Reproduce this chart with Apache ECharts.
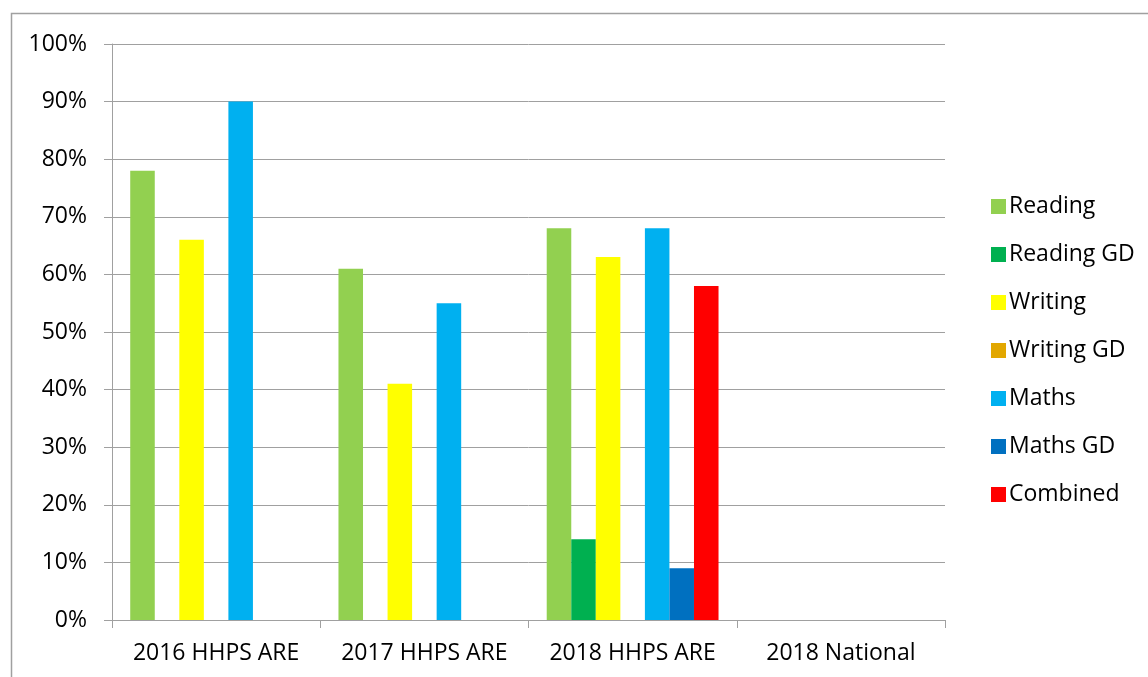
<!DOCTYPE html>
<html><head><meta charset="utf-8">
<script src="https://cdn.jsdelivr.net/npm/echarts@6/dist/echarts.min.js"></script>
<style>html,body{margin:0;padding:0;background:#fff}#c{width:1148px;height:677px}</style>
</head><body><div id="c"></div>
<script>
const categories = ['2016 HHPS ARE', '2017 HHPS ARE', '2018 HHPS ARE', '2018 National'];
const reading   = [78, 61, 68, null];
const readingGD = [null, null, 14, null];
const writing   = [66, 41, 63, null];
const writingGD = [null, null, null, null];
const maths     = [90, 55, 68, null];
const mathsGD   = [null, null, 9, null];
const combined  = [null, null, 58, null];
const yTicks = [0, 10, 20, 30, 40, 50, 60, 70, 80, 90, 100];

const seriesDefs = [
  ['Reading', reading, '#92D050'],
  ['Reading GD', readingGD, '#00B050'],
  ['Writing', writing, '#FFFF00'],
  ['Writing GD', writingGD, '#E2A700'],
  ['Maths', maths, '#00B0F0'],
  ['Maths GD', mathsGD, '#0070C0'],
  ['Combined', combined, '#FF0000']
];
const font = '"Open Sans", sans-serif';
const chart = echarts.init(document.getElementById('c'));
chart.setOption({
  animation: false,
  graphic: [{type: 'rect', shape: {x: 11.5, y: 13.5, width: 1200, height: 700}, style: {fill: 'none', stroke: '#a0a0a0', lineWidth: 1.5}, silent: true}],
  grid: {left: 112, right: 1148 - 945, top: 44, bottom: 677 - 620, containLabel: false},
  legend: {
    orient: 'vertical', left: 986, top: 190, icon: 'rect', itemWidth: 15, itemHeight: 15, itemGap: 25,
    textStyle: {fontSize: 23, fontFamily: font, color: '#000', lineHeight: 23, padding: [0, 0, 0, -2]},
    data: seriesDefs.map(s => s[0])
  },
  xAxis: {
    type: 'category', data: categories,
    axisLine: {lineStyle: {color: '#a0a0a0', width: 1}},
    axisTick: {show: true, interval: 0, length: 8, lineStyle: {color: '#a0a0a0'}},
    axisLabel: {interval: 0, fontSize: 23, fontFamily: font, color: '#000', margin: 22}
  },
  yAxis: {
    type: 'value', min: 0, max: 100, interval: 10,
    axisLine: {show: true, lineStyle: {color: '#a0a0a0', width: 1}},
    axisTick: {show: true, length: 8, lineStyle: {color: '#a0a0a0'}},
    splitLine: {lineStyle: {color: '#a0a0a0', width: 1}},
    axisLabel: {fontSize: 23, fontFamily: font, color: '#000', margin: 25,
      formatter: v => yTicks.includes(v) ? v + '%' : ''}
  },
  series: seriesDefs.map(([name, data, color]) => ({
    name, type: 'bar', data: data.map(v => v === null ? '-' : v),
    itemStyle: {color}, barGap: '0%', barCategoryGap: '17.5%'
  }))
});
</script></body></html>
